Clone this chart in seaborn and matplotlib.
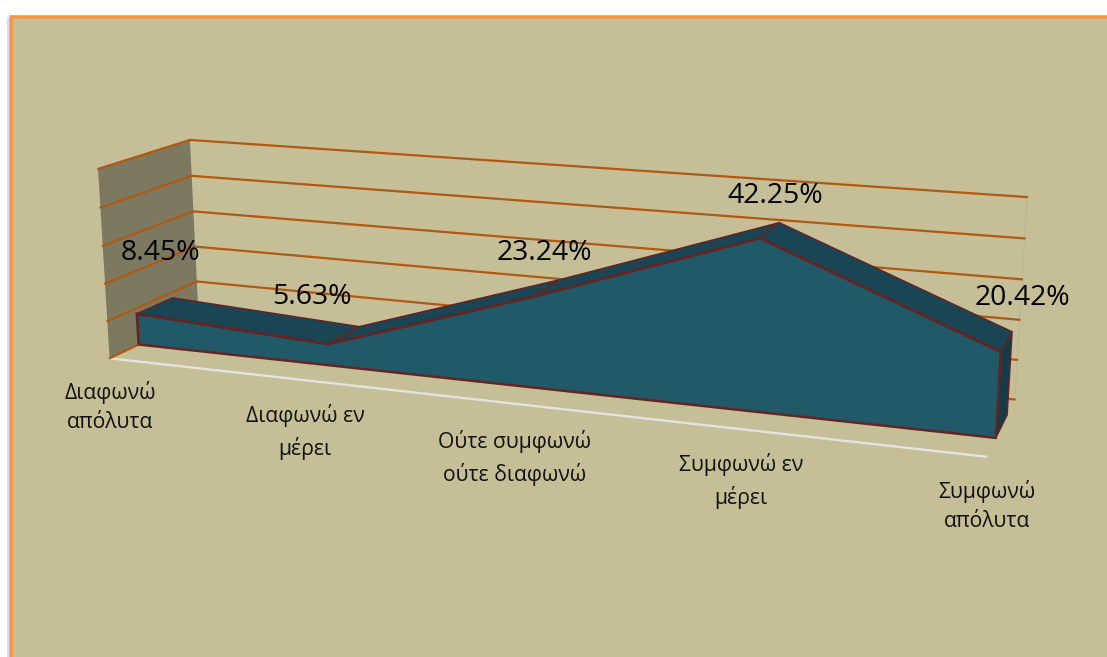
import numpy as np
import matplotlib
matplotlib.use('Agg')
import matplotlib.pyplot as plt
from matplotlib.patches import Rectangle
from matplotlib.transforms import Transform
import seaborn as sns

# Data
categories = ['Διαφωνώ\nαπόλυτα', 'Διαφωνώ εν\nμέρει', 'Ούτε συμφωνώ\nούτε διαφωνώ',
              'Συμφωνώ εν\nμέρει', 'Συμφωνώ\nαπόλυτα']
values = [8.45, 5.63, 23.24, 42.25, 20.42]
gridlines = [0, 10, 20, 30, 40, 50]

# Depth of the area inside the floor (0 = front edge, 1 = back wall)
AREA_FRONT = 0.31
AREA_BACK = 0.71

# Camera fit: (category, value, depth) -> pixel of the original 3D view
view_model = np.array([
    (0, 50, 1), (0, 0, 1), (0, 50, 0), (0, 0, 0), (4, 50, 1), (4, 0, 1), (4, 0, 0),
    (0, 0, AREA_FRONT), (4, 0, AREA_FRONT), (4, 20.42, AREA_FRONT), (3, 42.25, AREA_FRONT),
    (1, 5.63, AREA_FRONT), (0, 8.45, AREA_FRONT),
    (0, 8.45, AREA_BACK), (4, 20.42, AREA_BACK), (4, 0, AREA_BACK),
    (3, 42.25, AREA_BACK), (1, 5.63, AREA_BACK),
], dtype=float)
view_pixels = np.array([
    (190, 139), (199, 317), (98, 169), (110, 358), (1027, 197), (1015, 398), (987, 456),
    (138, 344), (996, 438), (1000, 352), (760, 239),
    (328, 344), (137, 314),
    (173, 298), (1012, 332), (1007, 416),
    (780, 223), (358, 327),
], dtype=float)


def fit_camera(model, pixels):
    m = model / [4, 50, 1]
    p = pixels / 1000
    rows = []
    for (x, y, z), (u, v) in zip(m, p):
        h = [x, y, z, 1]
        rows.append(h + [0, 0, 0, 0] + [-u * c for c in h])
        rows.append([0, 0, 0, 0] + h + [-v * c for c in h])
    _, _, vt = np.linalg.svd(np.array(rows))
    return vt[-1].reshape(3, 4)


CAMERA = fit_camera(view_model, view_pixels)


class DepthPlane(Transform):
    # maps (category, value) at a fixed depth to pixels
    input_dims = 2
    output_dims = 2
    is_separable = False
    has_inverse = False

    def __init__(self, plane_depth):
        super().__init__()
        self.plane_depth = plane_depth

    def transform_non_affine(self, xy):
        xy = np.asarray(xy, dtype=float)
        h = np.column_stack([xy[:, 0] / 4, xy[:, 1] / 50,
                             np.full(len(xy), self.plane_depth), np.ones(len(xy))])
        out = h @ CAMERA.T
        return out[:, :2] / out[:, 2:] * 1000


sns.set_theme(style='white')
plt.rcParams['font.family'] = ['Open Sans', 'DejaVu Sans']

BG = '#C5BE97'
GRID = '#AE5A12'
EDGE = '#632523'
FRONT = '#215968'
TOP = '#1A4554'
SIDE = '#163A46'
WALL = '#7C7960'

fig = plt.figure(figsize=(11.07, 6.57), dpi=100)
ax = fig.add_axes([0, 0, 1, 1])
ax.set_xlim(0, 1107)
ax.set_ylim(657, 0)
ax.autoscale(False)
ax.axis('off')

ax.add_patch(Rectangle((10.5, 16.5), 1110, 660, facecolor=BG, edgecolor='#F79646', lw=2.6, zorder=0))
ax.plot([8, 8], [18, 657], color='#dddddd', lw=1.5, zorder=0)

front_plane = DepthPlane(AREA_FRONT) + ax.transData
wall_plane = DepthPlane(1) + ax.transData
edge_plane = DepthPlane(0) + ax.transData
x_pos = np.arange(len(values))
top_val = gridlines[-1]
last = x_pos[-1]


def side_pts(x, v0, v1, d0, d1):
    # quad on a constant-category plane, in pixels
    a = DepthPlane(d0).transform_non_affine(np.array([[x, v0], [x, v1]]))
    b = DepthPlane(d1).transform_non_affine(np.array([[x, v1], [x, v0]]))
    return np.vstack([a, b])


# left wall
wall = side_pts(0, 0, top_val, 0, 1)
ax.fill(wall[:, 0], wall[:, 1], color=WALL, lw=0, zorder=1)

# faint seam of the back wall on the right
ax.plot([last, last], [0, top_val], color='#BDB78F', lw=0.8, transform=wall_plane, zorder=1)

# white floor edge
sns.lineplot(x=[0, last], y=[0, 0], color='#E2E2DE', lw=1.7, transform=edge_plane, ax=ax,
             legend=False, zorder=2)

# gridlines on both walls
for g in gridlines:
    sns.lineplot(x=[0, last], y=[g, g], color=GRID, lw=1.6, transform=wall_plane, ax=ax,
                 legend=False, zorder=2)
    seg = side_pts(0, g, g, 0, 1)[1:3]
    ax.plot(seg[:, 0], seg[:, 1], color=GRID, lw=1.6, zorder=2)

# top faces of the area, back to front
for i in range(len(values) - 1):
    f = DepthPlane(AREA_FRONT).transform_non_affine(np.array([[i, values[i]], [i + 1, values[i + 1]]]))
    b = DepthPlane(AREA_BACK).transform_non_affine(np.array([[i + 1, values[i + 1]], [i, values[i]]]))
    quad = np.vstack([f, b])
    ax.fill(quad[:, 0], quad[:, 1], facecolor=TOP, edgecolor=EDGE, lw=1.1, zorder=3)

# right side face
side = side_pts(last, 0, values[-1], AREA_FRONT, AREA_BACK)
ax.fill(side[:, 0], side[:, 1], facecolor=SIDE, edgecolor=EDGE, lw=1.1, zorder=3)

# front face
ax.fill(np.r_[x_pos, last, 0], np.r_[values, 0, 0], facecolor=FRONT, edgecolor=EDGE, lw=1.8,
        transform=front_plane, zorder=4)
sns.lineplot(x=x_pos, y=values, color=EDGE, lw=1.8, transform=front_plane, ax=ax, legend=False,
             sort=False, zorder=5)

# labels
value_xy = [(160, 253), (312, 297), (544, 253), (775, 196), (1022, 298)]
category_xy = [(110, 407), (305, 432), (515, 458), (741, 481), (987, 506)]
for v, (px, py) in zip(values, value_xy):
    ax.text(px, py, f'{v:.2f}%', fontsize=20.4, color='black', ha='center', va='center', zorder=6)
for c, (px, py) in zip(categories, category_xy):
    ax.text(px, py, c, fontsize=15.2, color='#111111', ha='center', va='center', ma='center',
            linespacing=1.55, zorder=6)

ax.set_xlabel('')
ax.set_ylabel('')
fig.savefig('out.png', dpi=100, facecolor='white')
